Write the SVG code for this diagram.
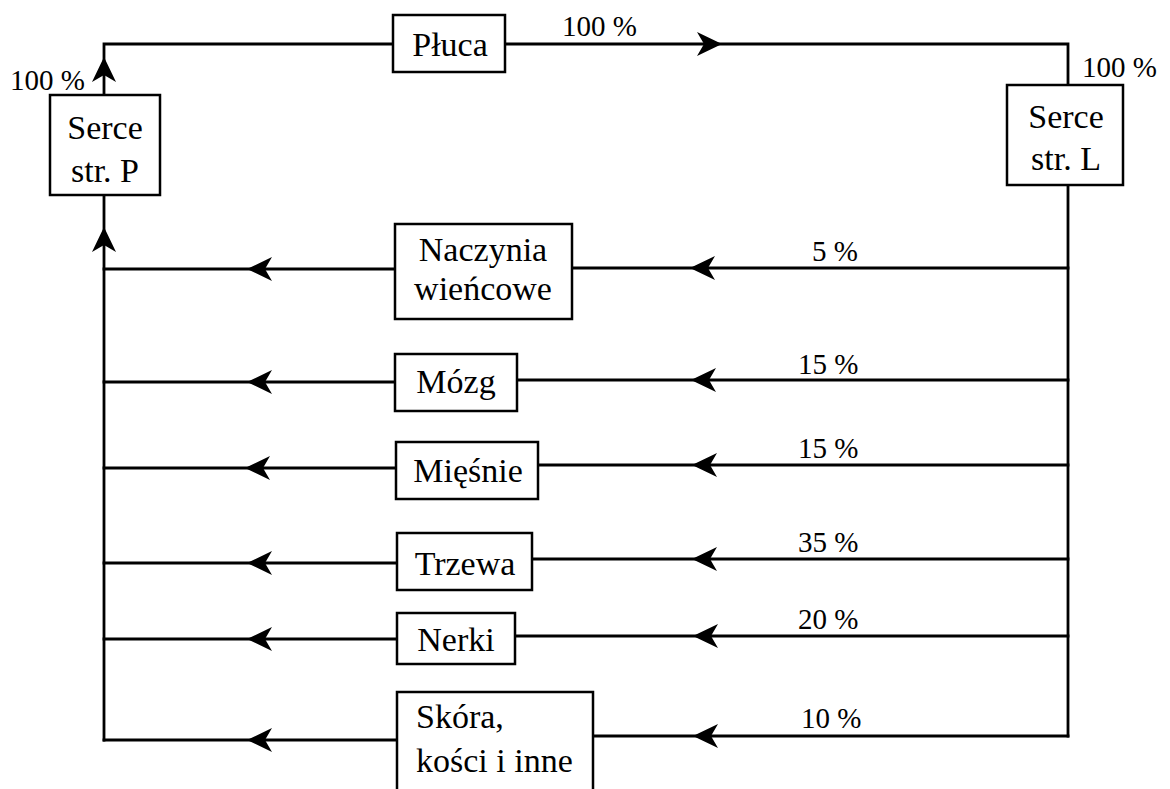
<svg xmlns="http://www.w3.org/2000/svg" width="1170" height="789" viewBox="0 0 1170 789">
<style>
.box{fill:#fff;stroke:#000;stroke-width:2.5}
.ln{fill:none;stroke:#000;stroke-width:2.8;stroke-linejoin:miter;stroke-linecap:square}
.t{font-family:"Liberation Serif","Times New Roman",serif;font-size:34px;fill:#000;text-anchor:middle}
.tl{font-family:"Liberation Serif","Times New Roman",serif;font-size:34px;fill:#000}
.p{font-family:"Liberation Serif","Times New Roman",serif;font-size:29px;fill:#000}
</style>
<defs>
<path id="ah" d="M0,0 L25,-12 L18,0 L25,12 Z" fill="#000"/>
</defs>
<rect width="1170" height="789" fill="#fff"/>
<g id="connectors">
<path class="ln" d="M104,95 V44 H393"/>
<path class="ln" d="M505,44 H1068 V85"/>
<path class="ln" d="M104,195 V740"/>
<path class="ln" d="M1068,185 V736"/>
<path class="ln" d="M1068,268 H572 M395,269 H104"/>
<path class="ln" d="M1068,380 H517 M395,382 H104"/>
<path class="ln" d="M1068,465 H538 M396,468 H104"/>
<path class="ln" d="M1068,559 H532 M397,563 H104"/>
<path class="ln" d="M1068,636 H515 M397,639 H104"/>
<path class="ln" d="M1068,736 H593 M397,740 H104"/>
<use href="#ah" transform="translate(722,44) rotate(180)"/>
<use href="#ah" transform="translate(104,57) rotate(90)"/>
<use href="#ah" transform="translate(104,227) rotate(90)"/>
<use href="#ah" transform="translate(690,268)"/>
<use href="#ah" transform="translate(247,269)"/>
<use href="#ah" transform="translate(691,380)"/>
<use href="#ah" transform="translate(247,382)"/>
<use href="#ah" transform="translate(692,465)"/>
<use href="#ah" transform="translate(245,468)"/>
<use href="#ah" transform="translate(692,559)"/>
<use href="#ah" transform="translate(247,563)"/>
<use href="#ah" transform="translate(693,636)"/>
<use href="#ah" transform="translate(247,639)"/>
<use href="#ah" transform="translate(693,736)"/>
<use href="#ah" transform="translate(247,740)"/>
<text class="p" x="10" y="90">100 %</text>
<text class="p" x="562" y="36">100 %</text>
<text class="p" x="1082" y="77">100 %</text>
<text class="p" x="812" y="261">5 %</text>
<text class="p" x="798" y="374">15 %</text>
<text class="p" x="798" y="458">15 %</text>
<text class="p" x="798" y="552">35 %</text>
<text class="p" x="798" y="629">20 %</text>
<text class="p" x="801" y="728">10 %</text>
</g>
<g id="serce-p"><rect class="box" x="50" y="95" width="110" height="100"/><text class="t" x="105" y="139">Serce</text><text class="t" x="105" y="182">str. P</text></g>
<g id="pluca"><rect class="box" x="393" y="15" width="112" height="57"/><text class="t" x="450" y="56">Płuca</text></g>
<g id="serce-l"><rect class="box" x="1007" y="85" width="116" height="100"/><text class="t" x="1066" y="128">Serce</text><text class="t" x="1066" y="170">str. L</text></g>
<g id="naczynia"><rect class="box" x="395" y="224" width="177" height="95"/><text class="t" x="483" y="261">Naczynia</text><text class="t" x="483" y="300">wieńcowe</text></g>
<g id="mozg"><rect class="box" x="395" y="354" width="122" height="57"/><text class="t" x="456" y="393">Mózg</text></g>
<g id="miesnie"><rect class="box" x="396" y="442" width="142" height="57"/><text class="t" x="468" y="482">Mięśnie</text></g>
<g id="trzewa"><rect class="box" x="397" y="533" width="135" height="57"/><text class="t" x="465" y="575">Trzewa</text></g>
<g id="nerki"><rect class="box" x="397" y="613" width="118" height="51"/><text class="t" x="456" y="651">Nerki</text></g>
<g id="skora"><rect class="box" x="397" y="692" width="196" height="110"/><text class="tl" x="416" y="728">Skóra,</text><text class="tl" x="416" y="772">kości i inne</text></g>
</svg>
